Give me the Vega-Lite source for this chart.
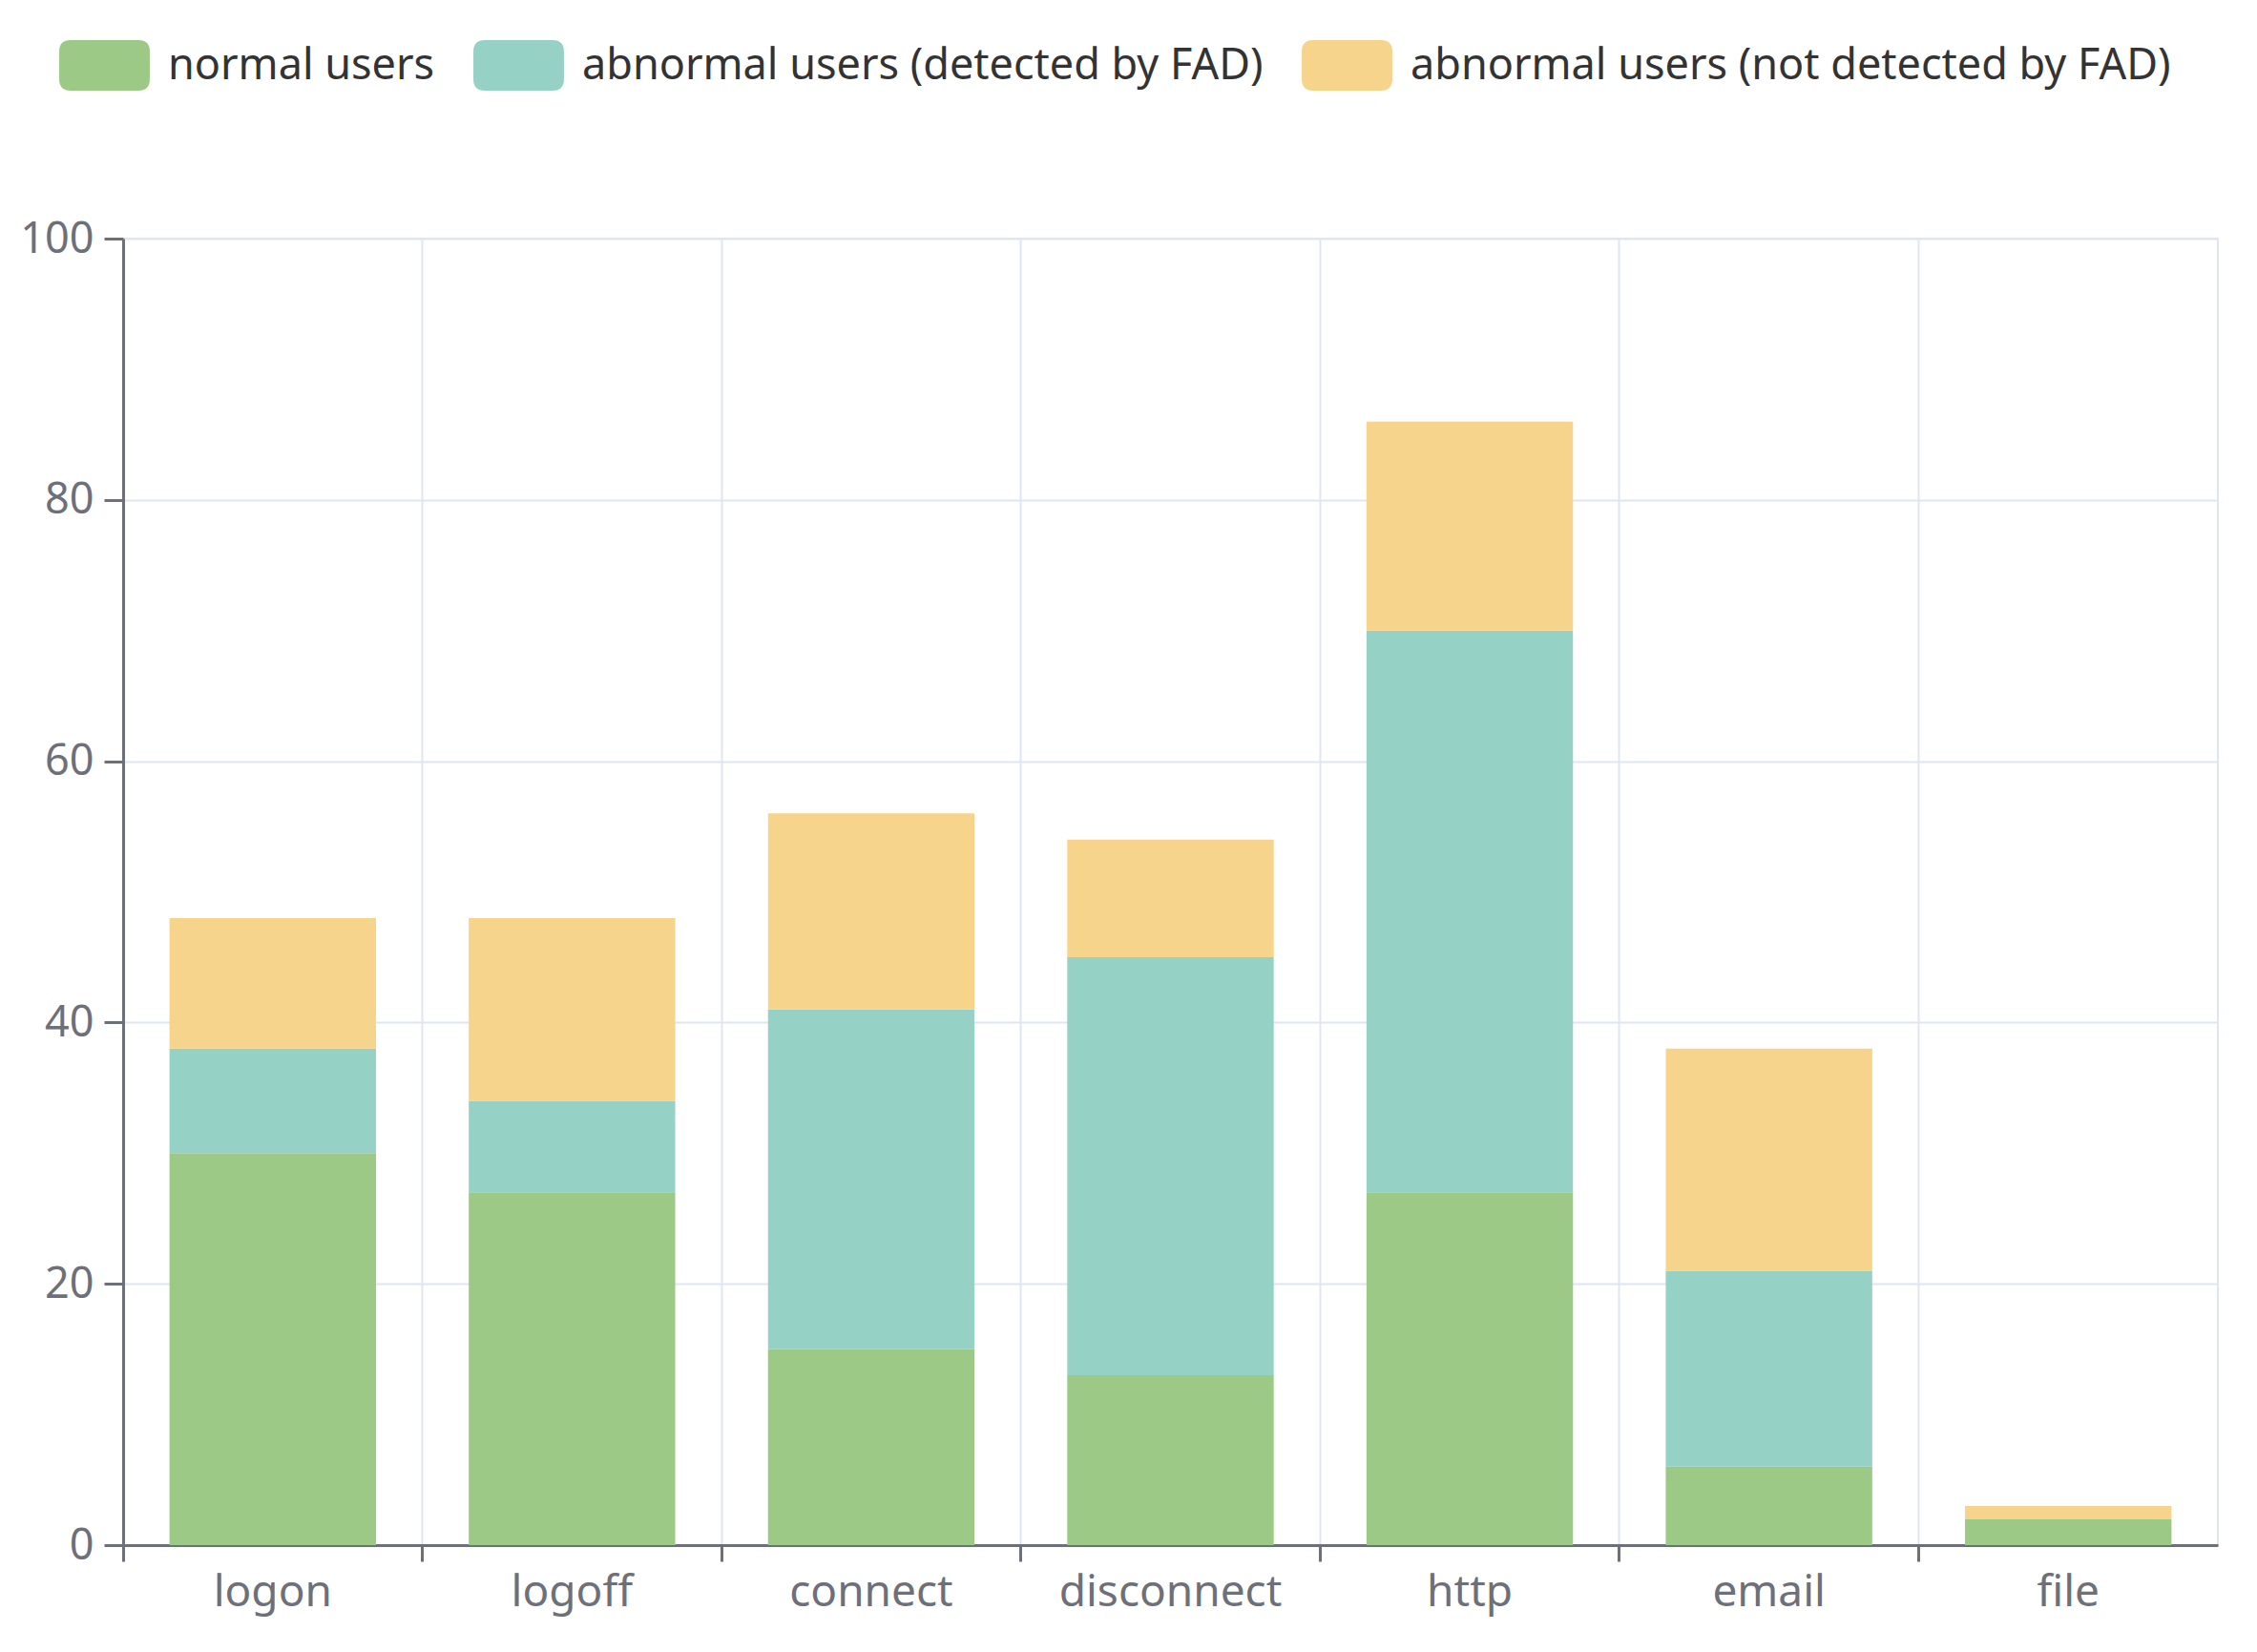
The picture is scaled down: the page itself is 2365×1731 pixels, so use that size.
{
  "$schema": "https://vega.github.io/schema/vega-lite/v6.json",
  "autosize": {"type": "none"},
  "padding": {"left": 129, "top": 250, "right": 41, "bottom": 112},
  "width": 2195,
  "height": 1369,
  "background": "white",
  "config": {
    "view": {"stroke": "#e0e6f1", "strokeWidth": 2},
    "font": "Noto Sans"
  },
  "data": {
    "values": [
      {"event": "logon", "group": "normal users", "k": 1, "count": 30},
      {"event": "logon", "group": "abnormal users (detected by FAD)", "k": 2, "count": 8},
      {"event": "logon", "group": "abnormal users (not detected by FAD)", "k": 3, "count": 10},
      {"event": "logoff", "group": "normal users", "k": 1, "count": 27},
      {"event": "logoff", "group": "abnormal users (detected by FAD)", "k": 2, "count": 7},
      {"event": "logoff", "group": "abnormal users (not detected by FAD)", "k": 3, "count": 14},
      {"event": "connect", "group": "normal users", "k": 1, "count": 15},
      {"event": "connect", "group": "abnormal users (detected by FAD)", "k": 2, "count": 26},
      {"event": "connect", "group": "abnormal users (not detected by FAD)", "k": 3, "count": 15},
      {"event": "disconnect", "group": "normal users", "k": 1, "count": 13},
      {"event": "disconnect", "group": "abnormal users (detected by FAD)", "k": 2, "count": 32},
      {"event": "disconnect", "group": "abnormal users (not detected by FAD)", "k": 3, "count": 9},
      {"event": "http", "group": "normal users", "k": 1, "count": 27},
      {"event": "http", "group": "abnormal users (detected by FAD)", "k": 2, "count": 43},
      {"event": "http", "group": "abnormal users (not detected by FAD)", "k": 3, "count": 16},
      {"event": "email", "group": "normal users", "k": 1, "count": 6},
      {"event": "email", "group": "abnormal users (detected by FAD)", "k": 2, "count": 15},
      {"event": "email", "group": "abnormal users (not detected by FAD)", "k": 3, "count": 17},
      {"event": "file", "group": "normal users", "k": 1, "count": 2},
      {"event": "file", "group": "abnormal users (detected by FAD)", "k": 2, "count": 0},
      {"event": "file", "group": "abnormal users (not detected by FAD)", "k": 3, "count": 1}
    ]
  },
  "mark": {"type": "bar", "width": {"band": 0.69}},
  "encoding": {
    "x": {
      "field": "event",
      "type": "nominal",
      "sort": ["logon", "logoff", "connect", "disconnect", "http", "email", "file"],
      "scale": {"paddingInner": 0, "paddingOuter": 0},
      "axis": {
        "title": null,
        "bandPosition": 0,
        "labelOffset": 0,
        "labelAngle": 0,
        "labelLimit": 500,
        "labelFont": "Noto Sans",
        "labelFontSize": 46,
        "labelColor": "#6e7079",
        "labelPadding": 10,
        "tickSize": 17,
        "tickWidth": 3,
        "tickColor": "#6e7079",
        "domainColor": "#6e7079",
        "domainWidth": 3,
        "grid": true,
        "gridColor": "#e0e6f1",
        "gridWidth": 2
      }
    },
    "y": {
      "field": "count",
      "type": "quantitative",
      "stack": "zero",
      "scale": {"domain": [0, 100], "nice": false},
      "axis": {
        "title": null,
        "values": [0, 20, 40, 60, 80, 100],
        "labelFont": "Noto Sans",
        "labelFontSize": 45,
        "labelColor": "#6e7079",
        "labelPadding": 11,
        "tickSize": 20,
        "tickWidth": 3,
        "tickColor": "#6e7079",
        "domainColor": "#6e7079",
        "domainWidth": 3,
        "grid": true,
        "gridColor": "#e0e6f1",
        "gridWidth": 2
      }
    },
    "color": {
      "field": "group",
      "type": "nominal",
      "scale": {
        "domain": ["normal users", "abnormal users (detected by FAD)", "abnormal users (not detected by FAD)"],
        "range": ["#9cc985", "#96d1c6", "#f6d48b"]
      },
      "legend": {
        "title": null,
        "orient": "none",
        "direction": "horizontal",
        "legendX": -46,
        "legendY": -208,
        "symbolType": "M-1.34,-1 L1.34,-1 Q1.79,-1 1.79,-0.55 L1.79,0.55 Q1.79,1 1.34,1 L-1.34,1 Q-1.79,1 -1.79,0.55 L-1.79,-0.55 Q-1.79,-1 -1.34,-1 Z",
        "symbolSize": 2809,
        "symbolStrokeWidth": 0,
        "symbolOpacity": 1,
        "labelFont": "Noto Sans",
        "labelFontSize": 45,
        "labelColor": "#333333",
        "labelOffset": 40,
        "columnPadding": 40,
        "labelLimit": 1200
      }
    },
    "order": {"field": "k", "type": "quantitative"}
  }
}
